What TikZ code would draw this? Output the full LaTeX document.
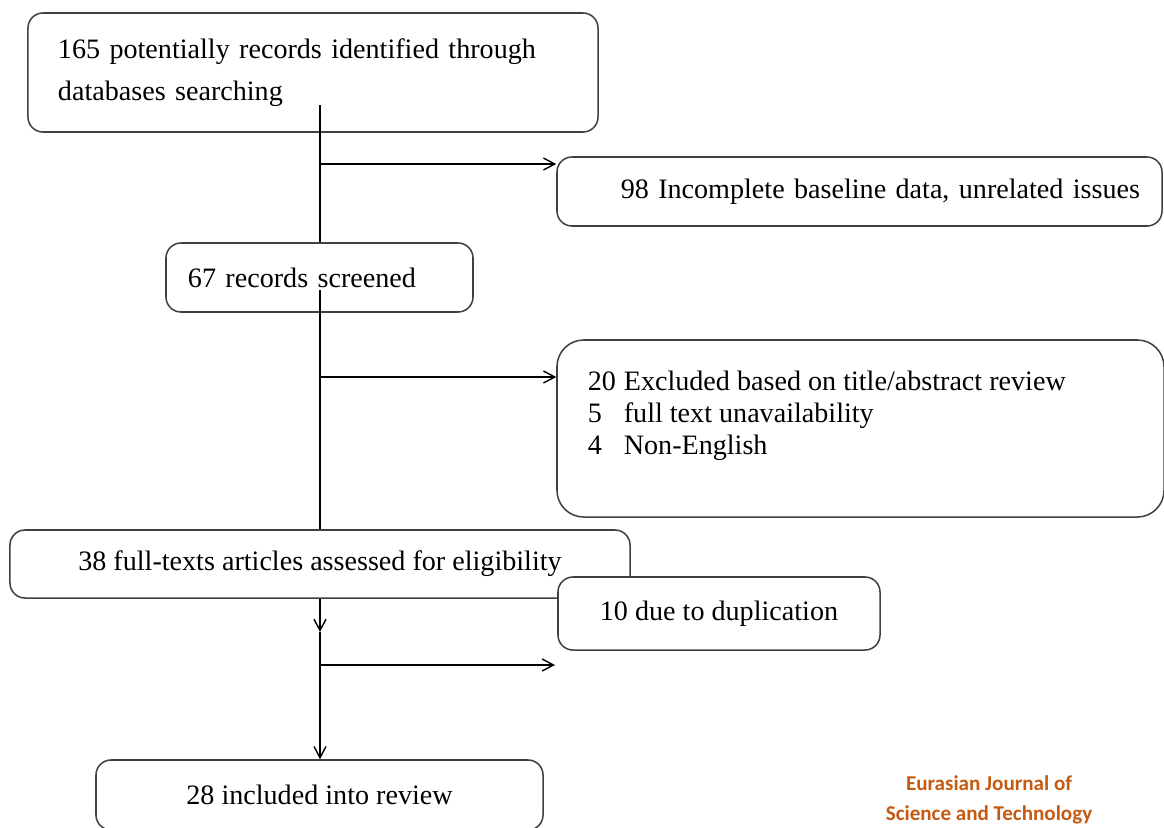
\documentclass[tikz,border=0pt]{standalone}
\usepackage{fontspec}
\setmainfont{Liberation Serif}
\newfontfamily\ejfont{Carlito}
\usetikzlibrary{arrows.meta}
\definecolor{ejorange}{HTML}{C55A11}

\tikzset{
  box/.style={draw=black!75, line width=1.3pt, rounded corners=0.45cm, inner ysep=0pt,
    font=\fontsize{24}{36}\selectfont},
  arr/.style={-{Straight Barb[length=0.34cm,width=0.36cm,line width=1.2pt]}},
}

\begin{document}
\begin{tikzpicture}[x=0.03cm,y=-0.03cm,line width=1.3pt]
\useasboundingbox (0,0) rectangle (1164,827);

% main column
\node[box, minimum width=17.1cm, minimum height=3.57cm, inner xsep=0.9cm,
  text width=15.3cm, align=left] (ident) at (313,72.5)
  {165 potentially records identified through\\databases searching};
\node[box, minimum width=9.21cm, minimum height=2.07cm, inner xsep=0.66cm,
  text width=7.89cm, align=left] (scr) at (319.5,277.5) {67 records screened};
\node[box, minimum width=18.6cm, minimum height=2.04cm] (full) at (320,564)
  {38 full-texts articles assessed for eligibility};
\node[box, minimum width=13.41cm, minimum height=2.1cm] (incl) at (319.5,795)
  {28 included into review};

% excluded boxes
\node[box, minimum width=18.15cm, minimum height=2.07cm, inner xsep=0.66cm,
  text width=16.83cm, align=right] (rej1) at (859.5,191.5)
  {98 Incomplete baseline data, unrelated issues};
\node[box, rounded corners=0.8cm, minimum width=18.21cm, minimum height=5.31cm] (rej2) at (860.5,428.5) {};
\node[font=\fontsize{24}{27.6}\selectfont, anchor=west, inner sep=0pt] (rej2txt) at (587,416)
  {\begin{tabular}{@{}l@{\hspace{6.8pt}}l@{}}
   20&Excluded based on title/abstract review\\
   5&full text unavailability\\
   4&Non-English
   \end{tabular}};
\node[box, fill=white, minimum width=9.66cm, minimum height=2.19cm] (rej3) at (719,613.5)
  {10 due to duplication};

% journal mark
\node[font=\ejfont\bfseries\fontsize{18}{25.5}\selectfont, text=ejorange, align=center]
  (journal) at (989,800) {Eurasian Journal of\\Science and Technology};

% spine
\coordinate (s1) at (320,105);
\coordinate (s2) at (320,290);
\coordinate (k1) at (320,164);
\coordinate (k2) at (320,377);
\coordinate (s3) at (320,632);
\coordinate (k3) at (320,665);
\coordinate (e3) at (555,665);

\draw (s1) -- (s1 |- scr.north);
\draw (s2) -- (s2 |- full.north);
\draw[arr] (k1) -- (k1 -| rej1.west);
\draw[arr] (k2) -- (k2 -| rej2.west);
\draw[arr] (full.south) -- (s3);
\draw[arr] (s3) -- (s3 |- incl.north);
\draw[arr] (k3) -- (e3);
\end{tikzpicture}
\end{document}
